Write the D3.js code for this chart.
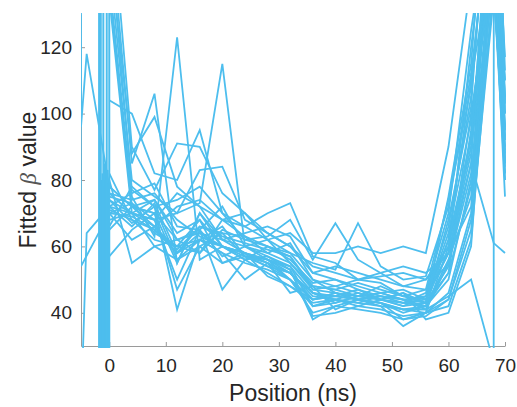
<!DOCTYPE html>
<html><head><meta charset="utf-8">
<script src="https://cdn.jsdelivr.net/npm/d3@7"></script>
<style>
body{margin:0;background:#fff}
text{font-family:"Liberation Sans",Arial,Helvetica,sans-serif;fill:#262626}
</style>
</head><body>
<svg id="chart" width="517" height="407"></svg>
<script>
const N = null;
// Sample positions (ns) shared by every trace
const positions = [-6, -5, -4, -2, 0, 4, 8, 12, 16, 20, 24, 28, 32, 36, 40, 44, 48, 52, 56, 60, 64, 68, 70];
// Fitted beta values per trace (null = no sample)
const trace01 = [N,N,N,N, 160, 85, 106, 55, 70, 62, 58, 56, 50, 44, 45, 44, 43, 41, 42, 52, 95, 160, 95];
const trace02 = [N,N,N,N, 150, 88, 99, 78, 72, 68, 63, 60, 57, 47, 46, 44, 45, 43, 44, 62, 110, 150, 110];
const trace03 = [N,N,N,N, 140, 75, 63, 123, 56, 60, 58, 55, 52, 45, 44, 46, 44, 42, 45, 58, 120, 175, 117];
const trace04 = [N,N,N,N, 135, 70, 68, 70, 73, 115, 60, 57, 54, 42, 43, 45, 46, 44, 41, 55, 85, 190, 104];
const trace05 = [N,N,N,N, 104, 100, 82, 80, 95, 70, 66, 62, 55, 48, 47, 45, 44, 43, 46, 70, 125, 170, 92];
const trace06 = [N,N,N,N, 170, 90, 77, 91, 90, 76, 70, 62, 58, 50, 48, 46, 44, 46, 43, 54, 100, 145, 88];
const trace07 = [N,N,N,N, 145, 80, 75, 70, 83, 84, 68, 64, 60, 52, 50, 47, 45, 44, 42, 50, 80, 165, 85];
const trace08 = [N,N,N,N, 155, 77, 72, 41, 62, 58, 55, 53, 50, 40, 42, 44, 43, 40, 42, 56, 75, 150, 80];
const trace09 = [N,N,N,N, 138, 72, 70, 47, 60, 64, 57, 56, 52, 46, 44, 43, 42, 41, 40, 60, 90, 140, 82];
const trace10 = [N,N,N,N, 75, 73, 68, 50, 65, 47, 56, 52, 48, 43, 44, 42, 41, 39, 40, 46, 70, 138, 80];
const trace11 = [N,N,N,N, 57, 65, 70, 55, 70, 60, 56, 57, 53, 38, 42, 41, 40, 38, 39, 44, 65, 135, 92];
const trace12 = [N,N,N,N, 80, 55, 60, 62, 58, 65, 62, 60, 56, 49, 50, 48, 46, 44, 45, 66, 105, 185, 100];
const trace13 = [N,N,N,N, 78, 72, 74, 64, 68, 55, 58, 55, 50, 44, 45, 47, 44, 42, 43, 52, 78, 155, 105];
const trace14 = [N,N,N,N, 82, 68, 65, 58, 62, 66, 57, 54, 52, 46, 43, 45, 48, 45, 43, 75, 115, 200, 113];
const trace15 = [N,N,N,N, 72, 76, 79, 66, 65, 72, 60, 58, 61, 50, 46, 44, 46, 47, 44, 58, 88, 160, 89];
const trace16 = [N,N,N,N, 74, 70, 66, 72, 74, 68, 66, 70, 73, 57, 55, 50, 49, 45, 44, 64, 98, 148, 86];
const trace17 = [N,N,N,N, 66, 78, 72, 74, 78, 70, 62, 63, 68, 56, 67, 56, 52, 48, 47, 55, 82, 142, 95];
const trace18 = [N,N,N,N, 76, 74, 76, 68, 63, 60, 56, 60, 58, 55, 53, 67, 54, 50, 51, 72, 112, 170, 110];
const trace19 = [N,N,N,N, 68, 70, 74, 62, 64, 62, 60, 62, 64, 58, 58, 60, 58, 60, 58, 90, 140, 260, 100];
const trace20 = [N,N,N,N, 70, 73, 64, 60, 58, 68, 70, 64, 60, 54, 52, 50, 51, 52, 50, 58, 72, 145, 75];
const trace21 = [N,N,N,N, 72, 66, 73, 58, 66, 64, 63, 58, 55, 47, 48, 50, 52, 54, 52, 58, 85, 61, 58];
const trace22 = [N,N,N,N, 76, 70, 68, 76, 72, 62, 64, 66, 63, 52, 54, 52, 50, 48, 50, 60, 93, 165, 96];
const trace23 = [N,N,N,N, 71, 68, 62, 60, 68, 60, 58, 51, 48, 44, 46, 44, 43, 38, 40, 42, 62, 140, 82];
const trace24 = [N,N,N,N, 74, 67, 72, 56, 62, 58, 50, 55, 46, 48, 41, 44, 42, 36, 40, 44, 68, 155, 84];
const trace25 = [N,N,N,N, 65, 72, 70, 62, 65, 57, 60, 56, 53, 39, 40, 42, 44, 46, 38, 40, 60, 150, 90];
const trace26 = [N,N,N,N, 70, 69, 65, 60, 62, 60, 58, 56, 54, 46, 45, 44, 43, 41, 41, 45, 50, 25, 20000];
const trace27 = [4000, 96, 118, N, 78, 72, 66, 58, 64, 60, 57, 55, 52, 44, 46, 45, 44, 43, 42, 62, 92, 175, 85];
const trace28 = [N, 10, 64, N, 72, 70, 60, 56, 60, 55, 57, 54, 50, 42, 44, 43, 45, 44, 43, 68, 102, 195, 93];
const trace29 = [900, 54, N, N, 70, 62, 66, 59, 66, 63, 61, 59, 57, 48, 47, 49, 47, 45, 47, 74, 108, 180, 103];
const traces = [trace01,trace02,trace03,trace04,trace05,trace06,trace07,trace08,trace09,trace10,
  trace11,trace12,trace13,trace14,trace15,trace16,trace17,trace18,trace19,trace20,
  trace21,trace22,trace23,trace24,trace25,trace26,trace27,trace28,trace29];
// Divergent fits just before 0 ns (near-vertical excursions)
const spikeX    = [-1.8, -1.65, -1.5, -1.35, -1.2, -1.05, -0.9, -0.75, -0.6, -0.45, -0.3, -0.15, 0];
const spikeLow  = [20, 20, 20, 20, 20, 20, 20, 20, 20, 20, 20, 20, 20];
const spikeHigh = [140, 84, 140, 80, 82, 140, 78, 85, 80, 140, 83, 79, 140];
// Axis ticks
const xTicks = [0, 10, 20, 30, 40, 50, 60, 70];
const yTicks = [40, 60, 80, 100, 120];

const svg = d3.select("#chart");
const L = 81, R = 505, T = 14, B = 346;
const x = d3.scaleLinear().domain([-5, 70]).range([L, R]);
const y = d3.scaleLinear().domain([30, 130]).range([B, T]);
const color = "#4DBEEE";
const axisCol = "#9a9a9a";

svg.append("defs").append("clipPath").attr("id","clip")
  .append("rect").attr("x", L).attr("y", T - 1).attr("width", R - L + 1).attr("height", B - T + 3);

// axes (drawn below data, MATLAB style)
const gx = svg.append("g").attr("transform", `translate(0,${B})`)
  .call(d3.axisBottom(x).tickValues(xTicks).tickSize(-4).tickSizeOuter(0).tickPadding(13).tickFormat(d3.format("d")));
const gy = svg.append("g").attr("transform", `translate(${L},0)`)
  .call(d3.axisLeft(y).tickValues(yTicks).tickSize(-4).tickSizeOuter(0).tickPadding(9).tickFormat(d3.format("d")));
[gx, gy].forEach(g => {
  g.select(".domain").attr("stroke", axisCol).attr("stroke-width", 1);
  g.selectAll(".tick line").attr("stroke", axisCol).attr("stroke-width", 1);
  g.selectAll(".tick text").attr("font-size", 19).attr("fill", "#262626")
    .attr("font-family", '"Liberation Sans",Arial,sans-serif');
});

const plot = svg.append("g").attr("clip-path", "url(#clip)");
const line = d3.line().x(d => x(d[0])).y(d => y(d[1]));

traces.forEach(t => {
  const pts = positions.map((p, i) => [p, t[i]]).filter(d => d[1] !== null);
  plot.append("path").attr("d", line(pts)).attr("fill", "none")
    .attr("stroke", color).attr("stroke-width", 1.8).attr("stroke-linejoin", "miter");
});
spikeX.forEach((sx, i) => {
  plot.append("path").attr("d", line([[sx, spikeLow[i]], [sx, spikeHigh[i]]]))
    .attr("fill", "none").attr("stroke", color).attr("stroke-width", 2);
});

// labels
svg.append("text").attr("x", (L + R) / 2).attr("y", 401).attr("text-anchor", "middle")
  .attr("font-size", 23).text("Position (ns)");
const yl = svg.append("text").attr("transform", `translate(35.5,${(T + B) / 2}) rotate(-90)`)
  .attr("text-anchor", "middle").attr("font-size", 23);
yl.append("tspan").text("Fitted ");
yl.append("tspan").attr("font-style", "italic").attr("font-family", '"Liberation Serif",serif').attr("fill","#555").text("β");
yl.append("tspan").text(" value");
</script>
</body></html>
